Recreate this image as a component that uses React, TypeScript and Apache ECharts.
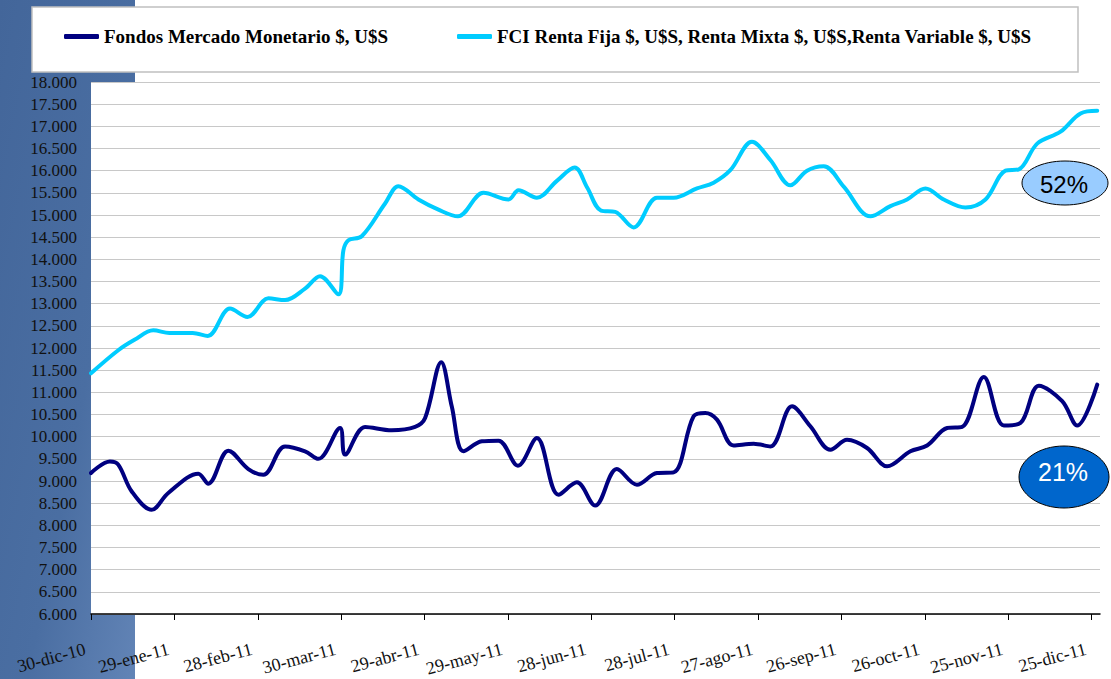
import React, { useEffect, useRef } from "react";
import * as echarts from "echarts";

const seriesNames = [
  "Fondos Mercado Monetario $, U$S",
  "FCI Renta Fija $, U$S, Renta Mixta $, U$S,Renta Variable $, U$S",
];

const tickLabels = [
  "30-dic-10", "29-ene-11", "28-feb-11", "30-mar-11", "29-abr-11", "29-may-11",
  "28-jun-11", "28-jul-11", "27-ago-11", "26-sep-11", "26-oct-11", "25-nov-11", "25-dic-11",
];

// days since 30-dic-10
const navyDays = [
  0, 6.8, 9.8, 14.6, 21.8, 27.8, 38.6, 42.2, 49.4, 56.6, 62, 69.8, 77, 81.8, 89.6, 91.4,
  98.6, 108.2, 116.6, 120.2, 126, 129.8, 134, 140.6, 146.6, 153.6, 160.4, 168.2, 174.8,
  181.4, 189.2, 196.4, 203.6, 209.6, 216.8, 221, 225.2, 231.2, 238.4, 244.4, 252.2, 258.8,
  266, 272, 279.2, 286.4, 294.8, 300.8, 308, 313.4, 321.2, 328.4, 334.4, 341, 349.4, 354.8, 362,
];
const navyValues = [
  9180, 9440, 9370, 8770, 8350, 8730, 9165, 8940, 9685, 9270, 9140, 9780, 9670, 9500, 10195, 9595,
  10220, 10145, 10220, 10420, 11680, 10680, 9670, 9895, 9910, 9345, 9970, 8690, 8970,
  8445, 9270, 8915, 9180, 9195, 10460, 10535, 10385, 9800, 9840, 9780, 10685, 10235,
  9705, 9930, 9745, 9330, 9670, 9800, 10195, 10220, 11345, 10250, 10310, 11150, 10800, 10250, 11175,
];

const cyanDays = [
  0, 9.8, 15.8, 22.4, 28.2, 36.6, 42, 50, 56.3, 63.8, 69.8, 77, 82.4, 89, 90.8, 92.6, 97.4,
  105.8, 110.6, 117.8, 125, 132, 141.2, 150.2, 153.8, 160.4, 167.6, 174, 178.5, 183.5, 188.6,
  195.2, 203.6, 209.6, 218, 224, 230, 237.8, 244.4, 251.6, 257.6, 263.6, 270.8, 280.4, 287.6,
  293.6, 300.2, 306.8, 314.6, 321.8, 329, 333.8, 340.4, 348.8, 356, 362,
];
const cyanValues = [
  11430, 11950, 12190, 12400, 12340, 12340, 12270, 12890, 12700, 13120, 13080, 13340, 13620, 13210, 14200, 14430, 14520,
  15260, 15650, 15350, 15120, 14970, 15500, 15350, 15560, 15390, 15770, 16070, 15620, 15100, 15070,
  14720, 15390, 15390, 15600, 15730, 16010, 16650, 16240, 15670, 16000, 16100, 15640, 14970, 15200,
  15350, 15600, 15350, 15170, 15350, 16000, 16030, 16610, 16880, 17290, 17350,
];

const badgeLabels = ["52%", "21%"];

const SERIF = "'Liberation Serif', 'Times New Roman', serif";
const SANS = "'Liberation Sans', Arial, sans-serif";

export default function App() {
  const ref = useRef<HTMLDivElement>(null);
  useEffect(() => {
    if (!ref.current) return;
    const chart = echarts.init(ref.current, null, { renderer: "svg" });
    const tickValues = tickLabels.map((_, i) => i * 30);
    const legendBase = {
      top: 27,
      padding: 0,
      itemWidth: 35,
      itemHeight: 5,
      icon: "roundRect",
      textStyle: { fontFamily: SERIF, fontWeight: "bold", fontSize: 19, color: "#000" },
    };
    chart.setOption({
      animation: false,
      backgroundColor: "#ffffff",
      legend: [
        { ...legendBase, left: 64, data: [seriesNames[0]] },
        { ...legendBase, left: 457, data: [seriesNames[1]] },
      ],
      grid: {
        left: 91,
        right: 11,
        top: 82,
        bottom: 65,
        show: true,
        backgroundColor: "#ffffff",
        borderWidth: 0,
        containLabel: false,
        outerBoundsMode: "none",
      },
      xAxis: {
        type: "value",
        min: 0,
        max: 363,
        interval: 30,
        splitLine: { show: false },
        axisLine: { show: true, lineStyle: { color: "#000", width: 1.5 } },
        axisTick: { show: true, length: 6, lineStyle: { color: "#000", width: 1 }, customValues: tickValues },
        axisLabel: {
          customValues: tickValues,
          rotate: 15,
          margin: 33,
          padding: [0, 6, 0, 0],
          fontFamily: SERIF,
          fontSize: 18,
          color: "#111",
          formatter: (v: number) => tickLabels[Math.round(v / 30)] ?? "",
        },
      },
      yAxis: {
        type: "value",
        min: 6000,
        max: 18000,
        interval: 500,
        axisLine: { show: false },
        axisTick: { show: false },
        splitLine: { show: true, lineStyle: { color: "#c8c8c8", width: 1.2 } },
        axisLabel: {
          margin: 14,
          fontFamily: SERIF,
          fontSize: 17,
          color: "#111",
          formatter: (v: number) => {
            const t = Math.floor(v / 1000);
            return `${t}.${String(v % 1000).padStart(3, "0")}`;
          },
        },
      },
      series: [
        {
          name: seriesNames[0],
          type: "line",
          smooth: 0.35,
          showSymbol: false,
          color: "#000080",
          lineStyle: { width: 4, color: "#000080", cap: "round" },
          data: navyDays.map((d, i) => [d, navyValues[i]]),
          z: 3,
        },
        {
          name: seriesNames[1],
          type: "line",
          smooth: 0.35,
          showSymbol: false,
          color: "#00CCFF",
          lineStyle: { width: 4, color: "#00CCFF", cap: "round" },
          data: cyanDays.map((d, i) => [d, cyanValues[i]]),
          z: 2,
        },
      ],
      graphic: [
        {
          type: "rect",
          z: -10,
          silent: true,
          shape: { x: 0, y: 0, width: 135, height: 679 },
          style: {
            fill: new echarts.graphic.LinearGradient(0, 0, 1, 1, [
              { offset: 0, color: "#43669a" },
              { offset: 0.6, color: "#4a6ea2" },
              { offset: 1, color: "#6284b6" },
            ]),
          },
        },
        {
          type: "rect",
          z: -5,
          silent: true,
          shape: { x: 32, y: 7, width: 1046, height: 65 },
          style: { fill: "#ffffff", stroke: "#c0c0c0", lineWidth: 1.5 },
        },
        {
          type: "ellipse",
          z: 100,
          shape: { cx: 1065, cy: 183, rx: 43, ry: 22 },
          style: { fill: "#99CCFF", stroke: "#000", lineWidth: 1 },
        },
        {
          type: "text",
          z: 101,
          x: 1064,
          y: 184,
          style: {
            text: badgeLabels[0],
            fill: "#000",
            font: `24px ${SANS}`,
            textAlign: "center",
            textVerticalAlign: "middle",
          },
        },
        {
          type: "ellipse",
          z: 100,
          shape: { cx: 1064, cy: 477, rx: 45, ry: 31 },
          style: { fill: "#0066CC", stroke: "#000", lineWidth: 1 },
        },
        {
          type: "text",
          z: 101,
          x: 1063,
          y: 472,
          style: {
            text: badgeLabels[1],
            fill: "#ffffff",
            font: `25px ${SANS}`,
            textAlign: "center",
            textVerticalAlign: "middle",
          },
        },
      ],
    });
    return () => chart.dispose();
  }, []);
  return (
    <div
      ref={ref}
      style={{ position: "fixed", left: 0, top: 0, width: 1111, height: 679 }}
    />
  );
}
